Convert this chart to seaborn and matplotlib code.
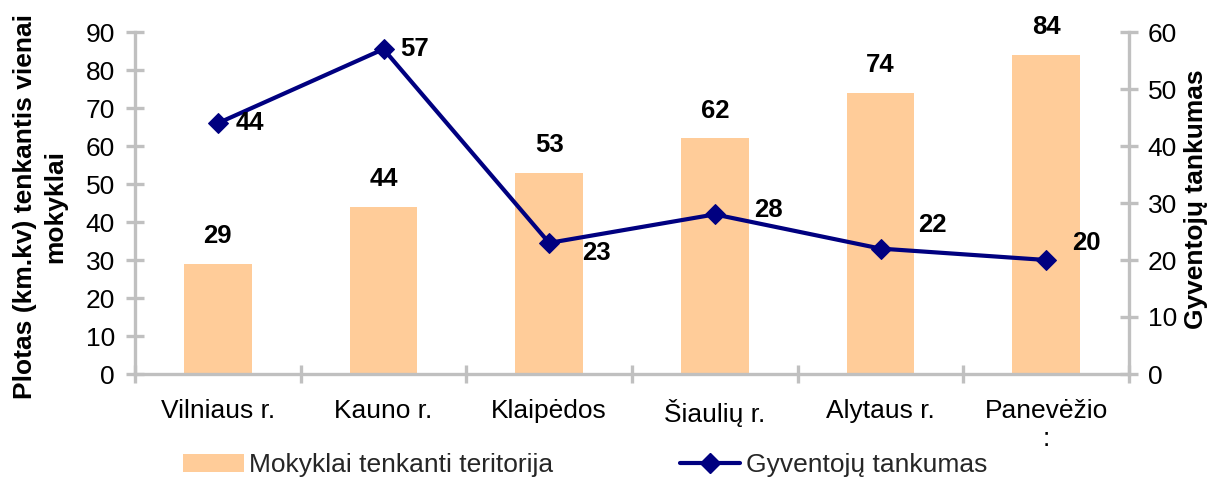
import numpy as np
import pandas as pd
import matplotlib
matplotlib.use("Agg")
import matplotlib.pyplot as plt
import seaborn as sns
from matplotlib.patches import Patch
from matplotlib.lines import Line2D

# ---- data ----
categories = ["Vilniaus r.", "Kauno r.", "Klaipėdos", "Šiaulių r.", "Alytaus r.", "Panevėžio\n:"]
area_per_school = [29, 44, 53, 62, 74, 84]      # left axis (bars)
density = [44, 57, 23, 28, 22, 20]              # right axis (line)
left_ticks = list(range(0, 91, 10))
right_ticks = list(range(0, 61, 10))
bar_name = "Mokyklai tenkanti teritorija"
line_name = "Gyventojų tankumas"
left_title = "Plotas (km.kv) tenkantis vienai\nmokyklai"
right_title = "Gyventojų tankumas"

# ---- style ----
sns.set_theme(style="white")
plt.rcParams['font.family'] = ['Liberation Sans', 'DejaVu Sans']

BAR = "#FFCC99"
LINE = "#000080"
AXC = "#C0C0C0"
FS = 19
FSD = 18.5
W, H = 1217, 478

fig = plt.figure(figsize=(W / 100, H / 100), dpi=100)
x0, x1, ytop, ybot = 135, 1129, 32, 374
ax = fig.add_axes([x0 / W, 1 - ybot / H, (x1 - x0) / W, (ybot - ytop) / H])

df = pd.DataFrame({"cat": categories, "area": area_per_school, "density": density})
sns.barplot(data=df, x="cat", y="area", color=BAR, saturation=1, width=0.41,
            linewidth=0, ax=ax)
ax.set_xlim(-0.5, len(categories) - 0.5)
ax.set_ylim(0, 90)
ax.set_yticks(left_ticks)
ax.set_xlabel("")

ax2 = ax.twinx()
pos = np.arange(len(categories))
sns.lineplot(x=pos, y=density, ax=ax2, color=LINE, linewidth=3, marker="D",
             markersize=10, markeredgecolor=LINE, markerfacecolor=LINE)
ax2.set_ylim(0, 60)
ax2.set_yticks(right_ticks)
ax2.set_xlim(-0.5, len(categories) - 0.5)

# spines
for s in ["top", "right"]:
    ax.spines[s].set_visible(False)
for s in ["left", "bottom"]:
    ax.spines[s].set_color(AXC)
    ax.spines[s].set_linewidth(2.4)
for s in ["top", "left", "bottom"]:
    ax2.spines[s].set_visible(False)
ax2.spines["right"].set_color(AXC)
ax2.spines["right"].set_linewidth(2.4)

# ticks
ax.tick_params(axis="y", left=True, direction="inout", length=13, width=2.4,
               color=AXC, labelsize=FS, labelcolor="black", pad=8)
ax2.tick_params(axis="y", right=True, direction="inout", length=13, width=2.4,
                color=AXC, labelsize=FS, labelcolor="black", pad=7)
ax.set_xticks(pos)
ax.set_xticklabels(categories)
ax.tick_params(axis="x", which="major", bottom=True, length=0, labelsize=FS,
               labelcolor="black", pad=18)
ax.set_xticks(np.arange(-0.5, len(categories), 1), minor=True)
ax.tick_params(axis="x", which="minor", bottom=True, direction="inout", length=13,
               width=2.4, color=AXC)

# axis titles
ax.set_ylabel(left_title, fontsize=FS, fontweight="bold", color="black",
              linespacing=1.3, va="center")
ax.yaxis.set_label_coords(-0.0956, 0.49)
ax2.set_ylabel(right_title, fontsize=FS, fontweight="bold", color="black",
               va="center")
ax2.yaxis.set_label_coords(1.0674, 0.51)

# data labels - bars
for i, v in enumerate(area_per_school):
    ax.annotate(f"{v}", (i, v), xytext=(0, 20), textcoords="offset points",
                ha="center", va="center", fontsize=FSD, fontweight="bold", color="black")

# data labels - line (offsets in points)
line_offsets = [(13, 0), (12, 0), (24, -7), (28, 3), (27, 17), (19, 12)]
for i, (v, off) in enumerate(zip(density, line_offsets)):
    ax2.annotate(f"{v}", (i, v), xytext=off, textcoords="offset points",
                 ha="left", va="center", fontsize=FSD, fontweight="bold", color="black")

# legend
handles = [Patch(facecolor=BAR, edgecolor="none", label=bar_name),
           Line2D([0], [0], color=LINE, linewidth=3, marker="D", markersize=10,
                  label=line_name)]
fig.legend(handles=handles, loc="center left", bbox_to_anchor=(183 / W, 1 - 465 / H),
           ncol=2, frameon=False, fontsize=FS, handlelength=2.3, handleheight=0.7,
           handletextpad=0.2, columnspacing=4.8, borderpad=0, borderaxespad=0)

fig.savefig("out.png", dpi=100)
